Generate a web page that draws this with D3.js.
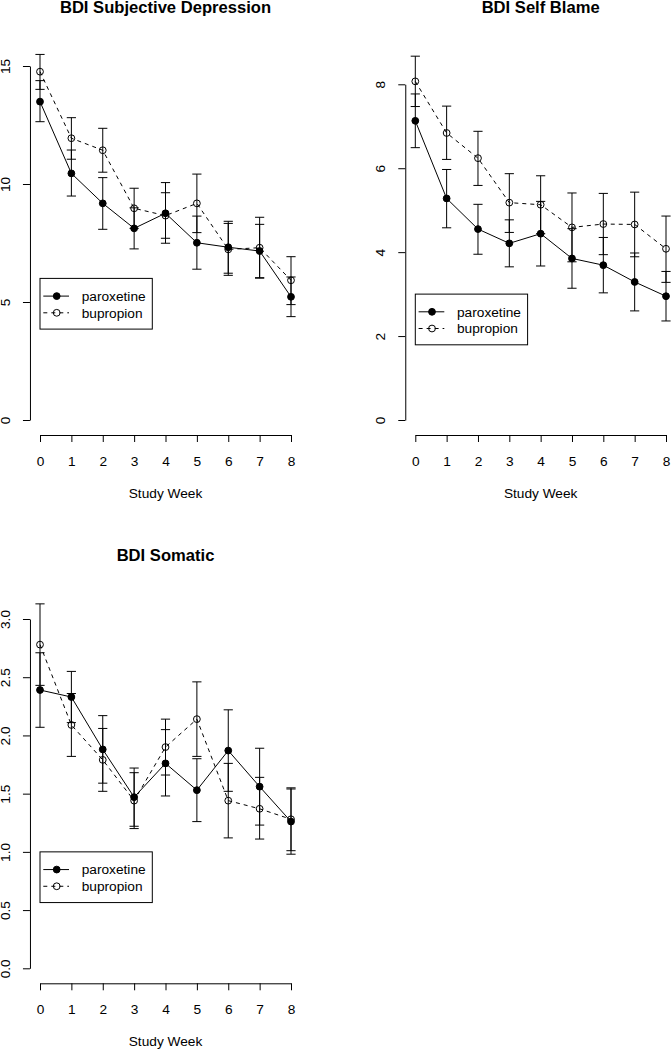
<!DOCTYPE html>
<html>
<head>
<meta charset="utf-8">
<script src="https://cdn.jsdelivr.net/npm/d3@7"></script>
<style>
  html, body { margin: 0; padding: 0; background: #fff; }
  svg { display: block; }
  text { font-family: "Liberation Sans", Arial, Helvetica, sans-serif; fill: #000; }
</style>
</head>
<body>
<svg id="chart" width="671" height="1050"></svg>
<script>
// ---------------- DATA ----------------
const weeks = [0, 1, 2, 3, 4, 5, 6, 7, 8];
const seriesNames = ["paroxetine", "bupropion"];
const xLabel = "Study Week";

// Panel 1: BDI Subjective Depression
const sdPar   = [13.49, 10.45, 9.18, 8.12, 8.76, 7.51, 7.32, 7.16, 5.22];
const sdParLo = [12.64, 9.49, 8.08, 7.25, 7.49, 6.39, 6.22, 6.03, 4.38];
const sdParHi = [14.38, 11.44, 10.27, 8.99, 10.06, 8.64, 8.42, 8.29, 6.06];
const sdBup   = [14.76, 11.94, 11.43, 8.97, 8.66, 9.18, 7.23, 7.30, 5.92];
const sdBupLo = [14.01, 11.05, 10.50, 8.12, 7.70, 7.94, 6.13, 6.01, 4.89];
const sdBupHi = [15.49, 12.81, 12.36, 9.82, 9.63, 10.42, 8.33, 8.59, 6.92];
const sdTicks = [0, 5, 10, 15];

// Panel 2: BDI Self Blame
const sbPar   = [7.13, 5.28, 4.55, 4.21, 4.44, 3.85, 3.69, 3.29, 2.95];
const sbParLo = [6.49, 4.58, 3.95, 3.65, 3.67, 3.14, 3.03, 2.60, 2.36];
const sbParHi = [7.77, 5.97, 5.14, 4.77, 5.21, 4.56, 4.35, 3.98, 3.54];
const sbBup   = [8.07, 6.84, 6.24, 5.18, 5.13, 4.59, 4.67, 4.66, 4.08];
const sbBupLo = [7.47, 6.21, 5.59, 4.47, 4.44, 3.77, 3.94, 3.89, 3.28];
const sbBupHi = [8.67, 7.48, 6.88, 5.87, 5.82, 5.41, 5.40, 5.43, 4.86];
const sbTicks = [0, 2, 4, 6, 8];

// Panel 3: BDI Somatic
const soPar   = [2.39, 2.33, 1.88, 1.47, 1.76, 1.53, 1.87, 1.56, 1.26];
const soParLo = [2.07, 2.11, 1.59, 1.22, 1.48, 1.26, 1.52, 1.23, 0.98];
const soParHi = [2.71, 2.55, 2.17, 1.72, 2.05, 1.80, 2.22, 1.89, 1.54];
const soBup   = [2.78, 2.09, 1.79, 1.44, 1.90, 2.14, 1.44, 1.37, 1.28];
const soBupLo = [2.43, 1.82, 1.52, 1.20, 1.66, 1.82, 1.12, 1.11, 1.01];
const soBupHi = [3.13, 2.36, 2.06, 1.68, 2.14, 2.46, 1.76, 1.64, 1.55];
const soTicks = [0, 0.5, 1.0, 1.5, 2.0, 2.5, 3.0];

const titles = ["BDI Subjective Depression", "BDI Self Blame", "BDI Somatic"];
const legendTop = [6, 3, 1]; // legend top-left anchored at (week 0, this value)

// ---------------- LAYOUT ----------------
const panels = [
  { title: titles[0], xr: [40, 291],    yr: [420, 66],    ymax: 15, ticks: sdTicks, fmt: d3.format("d"),
    par: [sdPar, sdParLo, sdParHi], bup: [sdBup, sdBupLo, sdBupHi], leg: legendTop[0] },
  { title: titles[1], xr: [415.3, 666], yr: [420, 84.3],  ymax: 8,  ticks: sbTicks, fmt: d3.format("d"),
    par: [sbPar, sbParLo, sbParHi], bup: [sbBup, sbBupLo, sbBupHi], leg: legendTop[1] },
  { title: titles[2], xr: [40, 291],    yr: [968.3, 619], ymax: 3,  ticks: soTicks, fmt: d3.format(".1f"),
    par: [soPar, soParLo, soParHi], bup: [soBup, soBupLo, soBupHi], leg: legendTop[2] }
];

const svg = d3.select("#chart");
svg.append("rect").attr("width", 671).attr("height", 1050).attr("fill", "#fff");

const FS = 13.7, TFS = 16.6, PT_R = 3.4, CAP = 4.6;

panels.forEach(p => {
  const x = d3.scaleLinear().domain([0, 8]).range(p.xr);
  const y = d3.scaleLinear().domain([0, p.ymax]).range(p.yr);
  const xs = (p.xr[1] - p.xr[0]) / 8;
  const plotLeft = p.xr[0] - 0.32 * xs;
  const plotRight = p.xr[1] + 0.32 * xs;
  const g = svg.append("g");

  // axes
  const xAxisYpos = p.yr[0] + 15;
  const xa = g.append("g").attr("transform", `translate(0,${xAxisYpos})`)
    .call(d3.axisBottom(x).tickValues(weeks).tickSizeOuter(0).tickSizeInner(7).tickPadding(4).tickFormat(d3.format("d")));
  xa.attr("font-family", null).attr("font-size", null);
  xa.select(".domain").attr("stroke", "#000");
  xa.selectAll(".tick line").attr("stroke", "#000");
  xa.selectAll(".tick text").attr("font-size", FS).attr("y", 21).attr("dy", "0.71em").attr("fill", "#000");

  const ya = g.append("g").attr("transform", `translate(${plotLeft},0)`)
    .call(d3.axisLeft(y).tickValues(p.ticks).tickSizeOuter(0).tickSizeInner(7).tickFormat(p.fmt));
  ya.attr("font-family", null).attr("font-size", null);
  ya.select(".domain").attr("stroke", "#000");
  ya.selectAll(".tick line").attr("stroke", "#000");
  ya.selectAll(".tick text")
    .attr("x", null).attr("dy", null)
    .attr("transform", "translate(-25,0) rotate(-90)")
    .attr("text-anchor", "middle")
    .attr("dy", "0.35em")
    .attr("font-size", FS).attr("fill", "#000");

  // title
  g.append("text").attr("x", (plotLeft + plotRight) / 2).attr("y", p.yr[0] - 407.5)
    .attr("text-anchor", "middle").attr("font-weight", "bold").attr("font-size", TFS)
    .text(p.title);

  // x label
  g.append("text").attr("x", (plotLeft + plotRight) / 2).attr("y", xAxisYpos + 63)
    .attr("text-anchor", "middle").attr("font-size", FS).text(xLabel);

  const drawSeries = (vals, dashed, filled) => {
    const [m, lo, hi] = vals;
    const line = d3.line().x((d, i) => x(weeks[i])).y(d => y(d));
    g.append("path").datum(m).attr("d", line).attr("fill", "none").attr("stroke", "#000")
      .attr("stroke-width", 1).attr("stroke-dasharray", dashed ? "4,4" : null);
    const eb = g.append("g").attr("stroke", "#000").attr("stroke-width", 1);
    weeks.forEach((w, i) => {
      eb.append("line").attr("x1", x(w)).attr("x2", x(w)).attr("y1", y(lo[i])).attr("y2", y(hi[i]));
      eb.append("line").attr("x1", x(w) - CAP).attr("x2", x(w) + CAP).attr("y1", y(lo[i])).attr("y2", y(lo[i]));
      eb.append("line").attr("x1", x(w) - CAP).attr("x2", x(w) + CAP).attr("y1", y(hi[i])).attr("y2", y(hi[i]));
    });
    g.append("g").selectAll("circle").data(m).join("circle")
      .attr("cx", (d, i) => x(weeks[i])).attr("cy", d => y(d)).attr("r", PT_R)
      .attr("fill", filled ? "#000" : "none").attr("stroke", "#000").attr("stroke-width", 1);
  };
  drawSeries(p.par, false, true);
  drawSeries(p.bup, true, false);

  // legend
  const lx = x(0), ly = y(p.leg);
  const lg = g.append("g").attr("transform", `translate(${lx},${ly})`);
  lg.append("rect").attr("x", 0).attr("y", 0).attr("width", 112.3).attr("height", 50.7)
    .attr("fill", "#fff").attr("stroke", "#000").attr("stroke-width", 1);
  const rows = [17.7, 34.4];
  seriesNames.forEach((name, k) => {
    lg.append("line").attr("x1", 3.3).attr("x2", 29).attr("y1", rows[k]).attr("y2", rows[k])
      .attr("stroke", "#000").attr("stroke-width", 1).attr("stroke-dasharray", k === 1 ? "4,4" : null);
    lg.append("circle").attr("cx", 16.7).attr("cy", rows[k]).attr("r", PT_R)
      .attr("fill", k === 0 ? "#000" : "none").attr("stroke", "#000");
    lg.append("text").attr("x", 41.7).attr("y", rows[k]).attr("dy", "0.35em")
      .attr("font-size", FS).text(name);
  });
});
</script>
</body>
</html>
